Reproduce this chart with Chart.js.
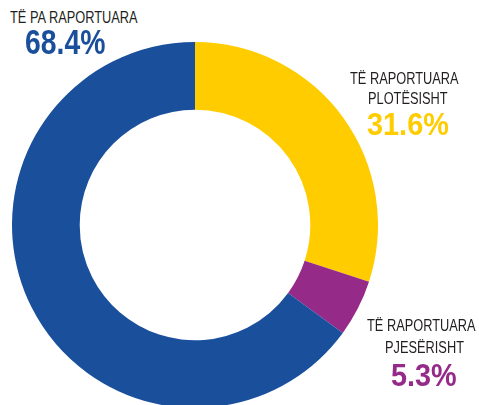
<!DOCTYPE html>
<html>
<head>
<meta charset="utf-8">
<script src="https://cdn.jsdelivr.net/npm/chart.js@4"></script>
<style>
  html, body { margin: 0; padding: 0; background: #fff; width: 479px; height: 405px; overflow: hidden; }
  #wrap { position: absolute; left: 12px; top: 42px; width: 366px; height: 366px; }
  .lbl { position: absolute; font-family: "Liberation Sans", Arial, sans-serif;
         line-height: 1; white-space: nowrap; color: #231f20; transform-origin: 0 0; }
  .name { font-size: 16px; transform: scaleX(0.8); }
  .pct { font-weight: bold; }
</style>
</head>
<body>
<div id="wrap"><canvas id="chart" width="366" height="366"></canvas></div>

<div class="lbl name" style="left:10px; top:10px;">TË PA RAPORTUARA</div>
<div class="lbl pct" style="left:25px; top:24px; font-size:35px; transform:scaleX(0.81); color:#1a4f9c;">68.4%</div>

<div class="lbl name" style="left:350px; top:71px;">TË RAPORTUARA</div>
<div class="lbl name" style="left:368px; top:91px;">PLOTËSISHT</div>
<div class="lbl pct" style="left:367px; top:108.6px; font-size:31.4px; transform:scaleX(0.92); color:#ffcc00;">31.6%</div>

<div class="lbl name" style="left:367px; top:318px;">TË RAPORTUARA</div>
<div class="lbl name" style="left:385px; top:340px;">PJESËRISHT</div>
<div class="lbl pct" style="left:391px; top:358.8px; font-size:32px; transform:scaleX(0.9); color:#952a88;">5.3%</div>

<script>
const categories = ["TË RAPORTUARA PLOTËSISHT", "TË RAPORTUARA PJESËRISHT", "TË PA RAPORTUARA"];
const values = [31.6, 5.3, 68.4];
const colors = ["#ffcc00", "#952a88", "#1a4f9c"];

new Chart(document.getElementById("chart"), {
  type: "doughnut",
  data: {
    labels: categories,
    datasets: [{
      data: values,
      backgroundColor: colors,
      borderWidth: 0,
    }],
  },
  options: {
    responsive: false,
    animation: false,
    cutout: "63%",
    layout: { padding: 0 },
    plugins: {
      legend: { display: false },
      tooltip: { enabled: false },
    },
  },
});
</script>
</body>
</html>
